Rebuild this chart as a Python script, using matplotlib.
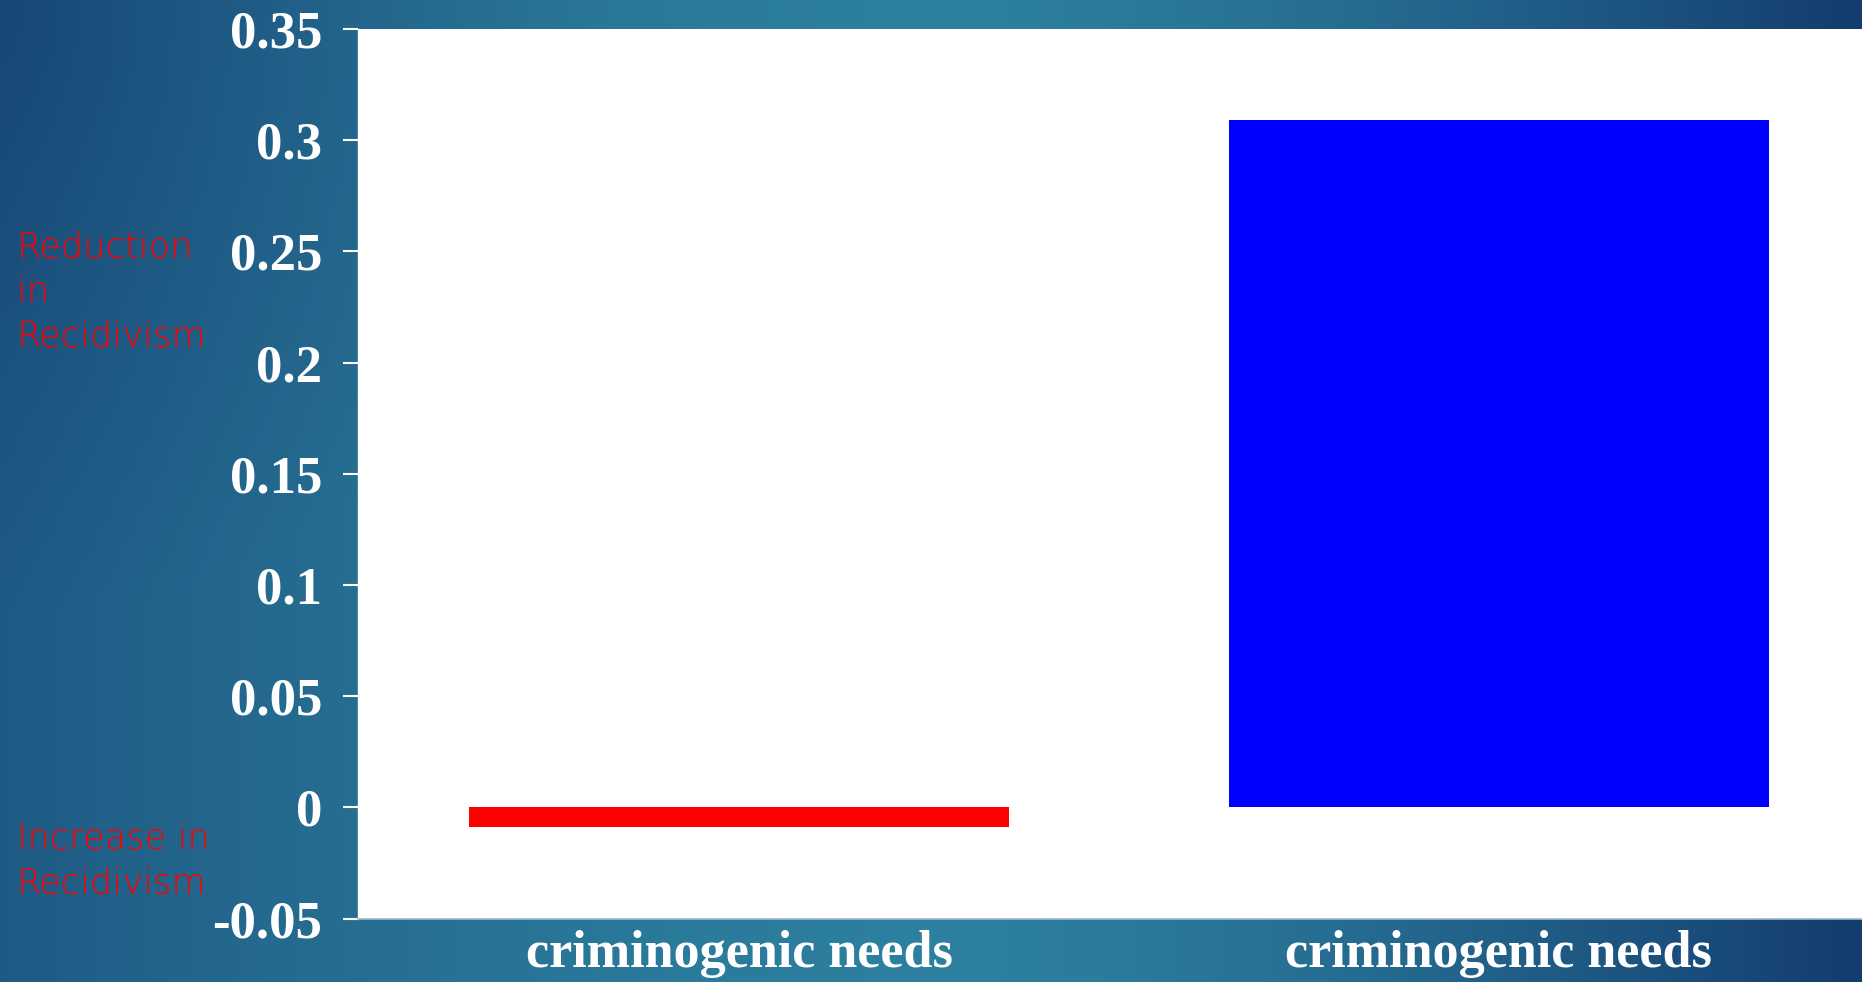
import numpy as np
import matplotlib
matplotlib.use("Agg")
import matplotlib.pyplot as plt
from matplotlib.colors import to_rgb

# Data
categories = ["criminogenic needs", "criminogenic needs"]
values = [-0.009, 0.309]
bar_colors = ["#ff0000", "#0000ff"]
y_ticks = [-0.05, 0, 0.05, 0.1, 0.15, 0.2, 0.25, 0.3, 0.35]
y_tick_labels = ["-0.05", "0", "0.05", "0.1", "0.15", "0.2", "0.25", "0.3", "0.35"]
upper_note = "Reduction\nin\nRecidivism"
lower_note = "Increase in\nRecidivism"

W, H, DPI = 1862, 982, 100
fig = plt.figure(figsize=(W / DPI, H / DPI), dpi=DPI)

# Blue slide background: lighter teal in the middle, navy towards the edges
bg = fig.add_axes([0, 0, 1, 1], zorder=-10)
bg.set_axis_off()
xs = np.linspace(0, W, 600)
ys = np.linspace(0, H, 320)
X, Y = np.meshgrid(xs, ys)
cx = 950.0
t = np.where(X < cx,
             0.52 * ((cx - X) / cx) ** 1.5,
             0.95 * ((X - cx) / (W - cx)) ** 1.5)
t = t + 0.28 * np.clip(1 - np.hypot(X, Y) / 620.0, 0, 1)
t = np.clip(t, 0, 1)[..., None]
light = np.array(to_rgb("#2d809f"))
dark = np.array(to_rgb("#12386c"))
img = light * (1 - t) + dark * t
bg.imshow(img, extent=[0, 1, 0, 1], aspect="auto", origin="upper")
bg.set_xlim(0, 1)
bg.set_ylim(0, 1)

# Chart area
ax = fig.add_axes([358 / W, 1 - 918.5 / H, 1 - 358 / W, (918.5 - 29) / H])
ax.set_facecolor("white")
x = np.arange(len(categories))
ax.bar(x, values, width=0.711, color=bar_colors)
ax.set_xlim(-0.502, 1.478)
ax.set_ylim(-0.05, 0.35)

ax.set_yticks(y_ticks)
ax.set_yticklabels(y_tick_labels)
ax.set_xticks(x)
ax.set_xticklabels(categories)

tick_font = dict(family="Liberation Serif", weight="bold", color="white")
for lbl in ax.get_yticklabels():
    lbl.set(**tick_font, fontsize=38)
for lbl in ax.get_xticklabels():
    lbl.set(**tick_font, fontsize=37.5)

ax.tick_params(axis="y", length=11, width=1.5, color="white", pad=15)
ax.tick_params(axis="x", length=0, pad=8)

for side in ["top", "right"]:
    ax.spines[side].set_visible(False)
ax.spines["left"].set_color("white")
ax.spines["left"].set_linewidth(1)
ax.spines["bottom"].set_color("#9fb8cc")
ax.spines["bottom"].set_linewidth(1.2)

# Side notes
note_font = dict(family=["DejaVu Sans"], weight="light", color="#ff0000",
                 fontsize=25.5, linespacing=1.4, ha="left", va="center")
fig.text(17 / W, 1 - 292 / H, upper_note, **note_font)
fig.text(17 / W, 1 - 861 / H, lower_note, **note_font)

fig.savefig("out.png", dpi=DPI)
